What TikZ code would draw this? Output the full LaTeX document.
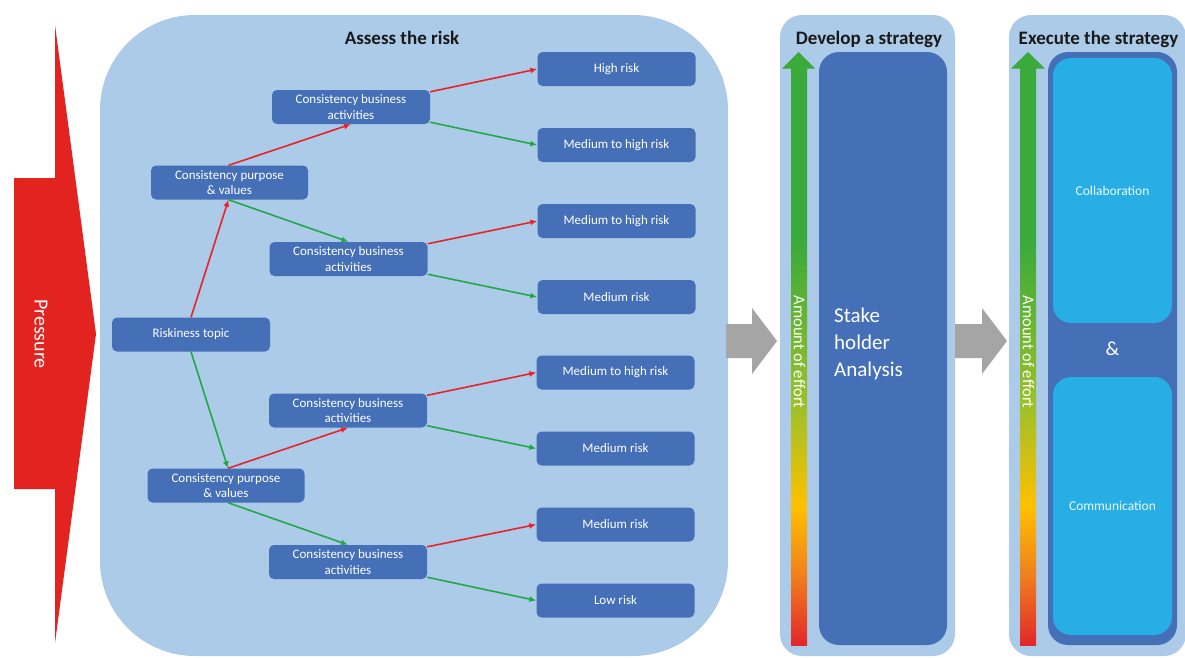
\documentclass[tikz,border=0pt]{standalone}
\usepackage{fontspec}
\setmainfont{Carlito}
\usetikzlibrary{arrows.meta}
\definecolor{panel}{HTML}{ACCBE8}
\definecolor{boxblue}{HTML}{4570B7}
\definecolor{cyanbox}{HTML}{27AEE4}
\definecolor{arrred}{HTML}{E8242A}
\definecolor{arrgreen}{HTML}{22A84A}
\definecolor{pressred}{HTML}{E2231F}
\definecolor{grayarr}{HTML}{A5A5A5}
\definecolor{effred}{HTML}{E3262A}
\definecolor{efforange}{HTML}{F07F1E}
\definecolor{effyellow}{HTML}{FFC000}
\definecolor{effyg}{HTML}{9BC02A}
\definecolor{effgreen}{HTML}{3AAA3A}
\pgfdeclareverticalshading{effortshade}{100bp}{color(0bp)=(effred); color(25bp)=(effred); color(31bp)=(efforange); color(37bp)=(effyellow); color(46bp)=(effyg); color(60bp)=(effgreen); color(75bp)=(effgreen); color(100bp)=(effgreen)}
\begin{document}
\begin{tikzpicture}[x=1pt,y=-1pt,
  box/.style={draw=none, fill=boxblue, rounded corners=5pt, text=white, align=center,
    minimum width=158pt, minimum height=34pt, inner sep=1pt,
    font=\fontsize{13}{15.5}\selectfont},
  head/.style={anchor=base, text=black!90, font=\fontsize{19}{22}\selectfont\bfseries},
  redarr/.style={draw=arrred, line width=1.6pt, -{Latex[length=7pt,width=6pt]}},
  greenarr/.style={draw=arrgreen, line width=1.6pt, -{Latex[length=7pt,width=6pt]}},
  efftext/.style={rotate=-90, text=white, font=\fontsize{16.5}{19}\selectfont, inner sep=0pt},
  inner/.style={draw=none, fill=cyanbox, rounded corners=18pt, text=white!92!cyanbox,
    font=\fontsize{13.5}{16}\selectfont}
]
\useasboundingbox (0,0) rectangle (1185,657);

% Pressure arrow
\fill[pressred] (14,178) -- (55,178) -- (55,25) -- (96,334) -- (55,643) -- (55,489) -- (14,489) -- cycle;
\node[rotate=-90, text=white, font=\fontsize{20}{24}\selectfont] (press) at (41,334) {Pressure};

% Panels
\fill[panel, rounded corners=95pt] (100,15) rectangle (728,656);
\fill[panel, rounded corners=22pt] (780,15) rectangle (955,656);
\fill[panel, rounded corners=22pt] (1009,15) rectangle (1186,656);

% Headings
\node[head] (h1) at (402,44) {Assess the risk};
\node[head] (h2) at (869,44) {Develop a strategy};
\node[head] (h3) at (1098.5,44) {Execute the strategy};

% Tree nodes
\node[box] (rt) at (191,334.5) {Riskiness topic};
\node[box, minimum width=157pt] (cpv1) at (229.5,182.5) {Consistency purpose\\\& values};
\node[box, minimum width=157pt] (cpv2) at (226,485.5) {Consistency purpose\\\& values};
\node[box] (cba1) at (351,107) {Consistency business\\activities};
\node[box] (cba2) at (348.5,259) {Consistency business\\activities};
\node[box] (cba3) at (348,410.5) {Consistency business\\activities};
\node[box] (cba4) at (348,562) {Consistency business\\activities};
\node[box] (hr) at (616.5,69) {High risk};
\node[box] (mh1) at (616.5,145) {Medium to high risk};
\node[box] (mh2) at (616.5,221) {Medium to high risk};
\node[box] (m1) at (616.5,297) {Medium risk};
\node[box] (mh3) at (615.5,372.5) {Medium to high risk};
\node[box] (m2) at (615.5,448.5) {Medium risk};
\node[box] (m3) at (615.5,524.5) {Medium risk};
\node[box] (lr) at (615.5,600.5) {Low risk};

% Connectors
\draw[redarr] (rt.north) -- ([xshift=-1pt]cpv1.south);
\draw[greenarr] (rt.south) -- ([xshift=2pt]cpv2.north);
\draw[redarr] ([xshift=-1pt]cpv1.north) -- (cba1.south);
\draw[greenarr] ([xshift=-1pt]cpv1.south) -- (cba2.north);
\draw[redarr] ([xshift=2pt]cpv2.north) -- (cba3.south);
\draw[greenarr] ([xshift=2pt]cpv2.south) -- (cba4.north);
\draw[redarr] ([yshift=-2pt]cba1.north east) -- (hr.west);
\draw[greenarr] ([yshift=2pt]cba1.south east) -- (mh1.west);
\draw[redarr] ([yshift=-2pt]cba2.north east) -- (mh2.west);
\draw[greenarr] ([yshift=2pt]cba2.south east) -- (m1.west);
\draw[redarr] ([yshift=-2pt]cba3.north east) -- (mh3.west);
\draw[greenarr] ([yshift=2pt]cba3.south east) -- (m2.west);
\draw[redarr] ([yshift=-2pt]cba4.north east) -- (m3.west);
\draw[greenarr] ([yshift=2pt]cba4.south east) -- (lr.west);

% Gray process arrows
\fill[grayarr] (726,324) -- (752,324) -- (752,308) -- (777,341) -- (752,374) -- (752,358) -- (726,358) -- cycle;
\fill[grayarr] (955,324) -- (982,324) -- (982,308) -- (1007,341) -- (982,374) -- (982,358) -- (955,358) -- cycle;

% Develop a strategy: effort bar and stakeholder box
\shade[shading=effortshade] (791,68) rectangle (807,645);
\fill[effgreen] (782,68.5) -- (798.5,52) -- (815,68.5) -- cycle;
\node[efftext] (eff1) at (799.5,352) {Amount of effort};
\node[draw=none, fill=boxblue, rounded corners=20pt, minimum width=128pt, minimum height=593pt, inner sep=0pt] (stake) at (883,348.5) {};
\node[anchor=west, align=left, text=white, inner sep=0pt, font=\fontsize{21}{27}\selectfont] (staketext) at (834,344) {Stake\\holder\\Analysis};

% Execute the strategy
\shade[shading=effortshade] (1020,68) rectangle (1036,645);
\fill[effgreen] (1011,68.5) -- (1028,52) -- (1045,68.5) -- cycle;
\node[efftext] (eff2) at (1028.5,352) {Amount of effort};
\node[draw=none, fill=boxblue, rounded corners=20pt, minimum width=129pt, minimum height=593pt, inner sep=0pt] (exec) at (1112.5,348.5) {};
\node[inner, minimum width=119pt, minimum height=265pt] (collab) at (1112.5,190.5) {Collaboration};
\node[inner, minimum width=119pt, minimum height=258pt] (comm) at (1112.5,506) {Communication};
\node[text=white, font=\fontsize{20}{24}\selectfont] (amp) at (1112.5,349) {\&};
\end{tikzpicture}
\end{document}
